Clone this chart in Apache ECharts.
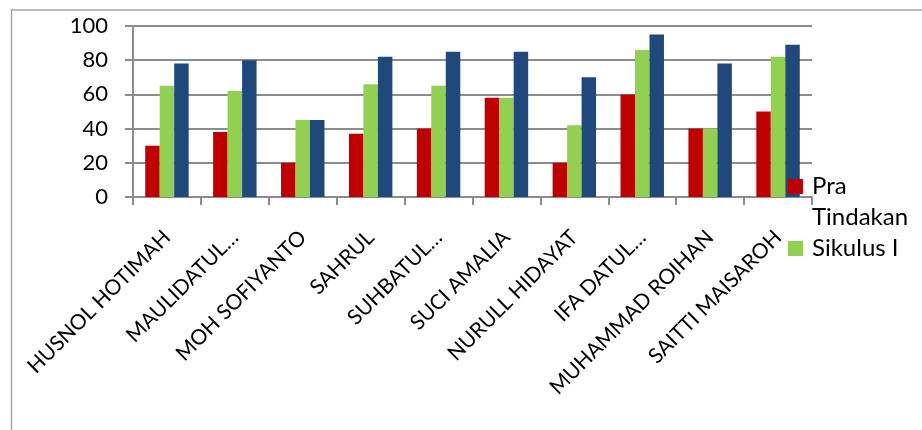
<!DOCTYPE html>
<html>
<head>
<meta charset="utf-8">
<script src="https://cdn.jsdelivr.net/npm/echarts@6/dist/echarts.min.js"></script>
<style>
  html, body { margin: 0; padding: 0; background: #ffffff; }
  #chart { width: 922px; height: 430px; }
</style>
</head>
<body>
<div id="chart"></div>
<script>
// Student names (as shown on the axis, long names truncated)
const students = [
  'HUSNOL HOTIMAH', 'MAULIDATUL…', 'MOH SOFIYANTO', 'SAHRUL', 'SUHBATUL…',
  'SUCI AMALIA', 'NURULL HIDAYAT', 'IFA DATUL…', 'MUHAMMAD ROIHAN', 'SAITTI MAISAROH'
];
// Scores per stage
const praTindakan = [30, 38, 20, 37, 40, 58, 20, 60, 40, 50];
const sikulus1    = [65, 62, 45, 66, 65, 58, 42, 86, 40, 82];
const sikulus2    = [78, 80, 45, 82, 85, 85, 70, 95, 78, 89];
const seriesNames = ['Pra Tindakan', 'Sikulus I', 'Sikulus II'];
const yTicks = { min: 0, max: 100, interval: 20 };

const FONT = 'Lato, "Open Sans", sans-serif';
const gridGray = '#8c8c8c';

const chart = echarts.init(document.getElementById('chart'), null, { renderer: 'canvas' });

const barStyle = (color) => ({
  type: 'bar',
  barGap: '0%',
  barCategoryGap: '36%',
  itemStyle: { color: color },
  emphasis: { disabled: true }
});

chart.setOption({
  animation: false,
  backgroundColor: '#ffffff',
  textStyle: { fontFamily: FONT },
  graphic: [{
    type: 'rect',
    shape: { x: 11.5, y: 10, width: 1000, height: 500 },
    style: { fill: 'none', stroke: '#a6a6a6', lineWidth: 1.5 },
    silent: true,
    z: -1
  }],
  grid: { left: 133, right: 110, top: 26, bottom: 233, containLabel: false },
  legend: {
    orient: 'vertical',
    left: 788,
    top: 140,
    padding: 0,
    itemWidth: 15,
    itemHeight: 15,
    itemGap: 0,
    icon: 'rect',
    selectedMode: false,
    data: [seriesNames[0], seriesNames[1]],
    formatter: (name) => name === seriesNames[0] ? '\nPra\nTindakan' : name,
    textStyle: {
      fontFamily: FONT,
      fontSize: 24,
      color: '#000',
      lineHeight: 31,
      padding: [0, 0, 0, 4]
    }
  },
  xAxis: {
    type: 'category',
    data: students,
    boundaryGap: true,
    axisLine: { show: true, lineStyle: { color: gridGray, width: 2 } },
    axisTick: { show: true, length: 8, alignWithLabel: false, interval: 0,
                lineStyle: { color: gridGray, width: 2 } },
    axisLabel: {
      interval: 0,
      rotate: 45,
      margin: 37,
      color: '#000',
      fontFamily: FONT,
      fontSize: 21
    }
  },
  yAxis: {
    type: 'value',
    min: yTicks.min,
    max: yTicks.max,
    interval: yTicks.interval,
    axisLine: { show: true, lineStyle: { color: gridGray, width: 2 } },
    axisTick: { show: true, length: 8, lineStyle: { color: gridGray, width: 2 } },
    splitLine: { show: true, lineStyle: { color: gridGray, width: 2 } },
    axisLabel: {
      margin: 25,
      color: '#000',
      fontFamily: FONT,
      fontSize: 22
    }
  },
  series: [
    Object.assign(barStyle('#c00000'), { name: seriesNames[0], data: praTindakan }),
    Object.assign(barStyle('#92d050'), { name: seriesNames[1], data: sikulus1 }),
    Object.assign(barStyle('#1f497d'), { name: seriesNames[2], data: sikulus2 })
  ]
});
</script>
</body>
</html>
